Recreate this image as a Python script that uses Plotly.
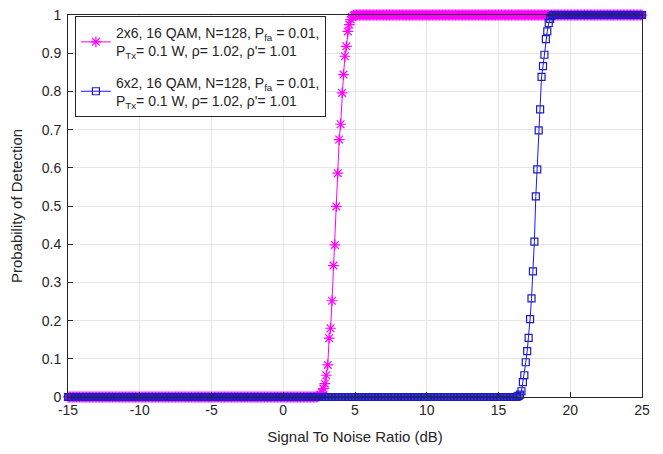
import plotly.graph_objects as go

# SNR grid (dB), 0.1 dB step from -15 to 25
snr_start, snr_step, snr_count = -15.0, 0.1, 401
snr = [round(snr_start + snr_step * i, 1) for i in range(snr_count)]

# 2x6 curve: flat 0 up to 2.3 dB, measured transition 2.4..4.9 dB, then 1
pd_2x6_transition = [0.001, 0.003, 0.006, 0.012, 0.022, 0.035, 0.057, 0.084, 0.154,
                     0.180, 0.252, 0.344, 0.398, 0.499, 0.586, 0.674, 0.714, 0.796,
                     0.844, 0.892, 0.918, 0.957, 0.975, 0.988, 0.995, 0.999]
pd_2x6_start_db = 2.4

# 6x2 curve: flat 0 up to 16.2 dB, measured transition 16.3..18.7 dB, then 1
pd_6x2_transition = [0.001, 0.003, 0.006, 0.015, 0.039, 0.057, 0.091, 0.120, 0.155,
                     0.204, 0.258, 0.329, 0.407, 0.525, 0.596, 0.698, 0.753, 0.838,
                     0.866, 0.896, 0.937, 0.957, 0.979, 0.990, 0.998]
pd_6x2_start_db = 16.3

def full_curve(transition, start_db):
    i0 = snr.index(start_db)
    n_after = len(snr) - i0 - len(transition)
    return [0.0] * i0 + transition + [1.0] * n_after

pd_2x6 = full_curve(pd_2x6_transition, pd_2x6_start_db)
pd_6x2 = full_curve(pd_6x2_transition, pd_6x2_start_db)

name_2x6 = "2x6, 16 QAM, N=128, P<sub>fa</sub> = 0.01,<br>P<sub>Tx</sub>= 0.1 W, ρ= 1.02, ρ'= 1.01"
name_6x2 = "6x2, 16 QAM, N=128, P<sub>fa</sub> = 0.01,<br>P<sub>Tx</sub>= 0.1 W, ρ= 1.02, ρ'= 1.01"

x_ticks = [-15, -10, -5, 0, 5, 10, 15, 20, 25]
x_tick_text = ["-15", "-10", "-5", "0", "5", "10", "15", "20", "25"]
y_ticks = [0, 0.1, 0.2, 0.3, 0.4, 0.5, 0.6, 0.7, 0.8, 0.9, 1]
y_tick_text = ["0", "0.1", "0.2", "0.3", "0.4", "0.5", "0.6", "0.7", "0.8", "0.9", "1"]

FONT = "Liberation Sans, Arial, sans-serif"

fig = go.Figure()
fig.add_trace(go.Scatter(
    x=snr, y=pd_2x6, name=name_2x6, mode="lines+markers", legendgroup="g1",
    line=dict(color="#ff00ff", width=1),
    marker=dict(symbol="asterisk-open", size=9, color="#ff00ff",
                line=dict(color="#ff00ff", width=1.2)),
    cliponaxis=False,
))
fig.add_trace(go.Scatter(
    x=snr, y=pd_6x2, name=name_6x2, mode="lines+markers", legendgroup="g2",
    line=dict(color="#1818ff", width=1),
    marker=dict(symbol="square-open", size=7, color="#1c1cc0",
                line=dict(color="#1c1cc0", width=1.2)),
    cliponaxis=False,
))

axis_common = dict(
    showline=True, linecolor="#262626", linewidth=1, mirror=True,
    showgrid=True, gridcolor="#e6e6e6", gridwidth=1,
    ticks="inside", ticklen=5, tickcolor="#262626",
    zeroline=False, automargin=False,
    ticklabeloverflow="allow",
    tickfont=dict(family=FONT, size=14, color="#262626"),
    title_font=dict(family=FONT, size=15, color="#262626"),
)

fig.update_xaxes(range=[-15, 25], tickvals=x_ticks, ticktext=x_tick_text,
                 title_text="Signal To Noise Ratio (dB)", title_standoff=14, **axis_common)
fig.update_yaxes(range=[0, 1], tickvals=y_ticks, ticktext=y_tick_text,
                 title_text="Probability of Detection", title_standoff=18,
                 ticklabelstandoff=3, **axis_common)

# page body has an 8px default margin; size the figure so the plot area lands
# at the same window position as the reference
fig.update_layout(
    width=655, height=446,
    margin=dict(l=60, r=21, t=7, b=57),
    paper_bgcolor="white", plot_bgcolor="white",
    showlegend=True,
    legend=dict(
        x=0.012, y=0.997, xanchor="left", yanchor="top",
        bgcolor="white", bordercolor="#262626", borderwidth=1,
        font=dict(family=FONT, size=14, color="#262626"),
        itemwidth=30, tracegroupgap=10, traceorder="grouped",
    ),
)

fig.write_html("out.html")
